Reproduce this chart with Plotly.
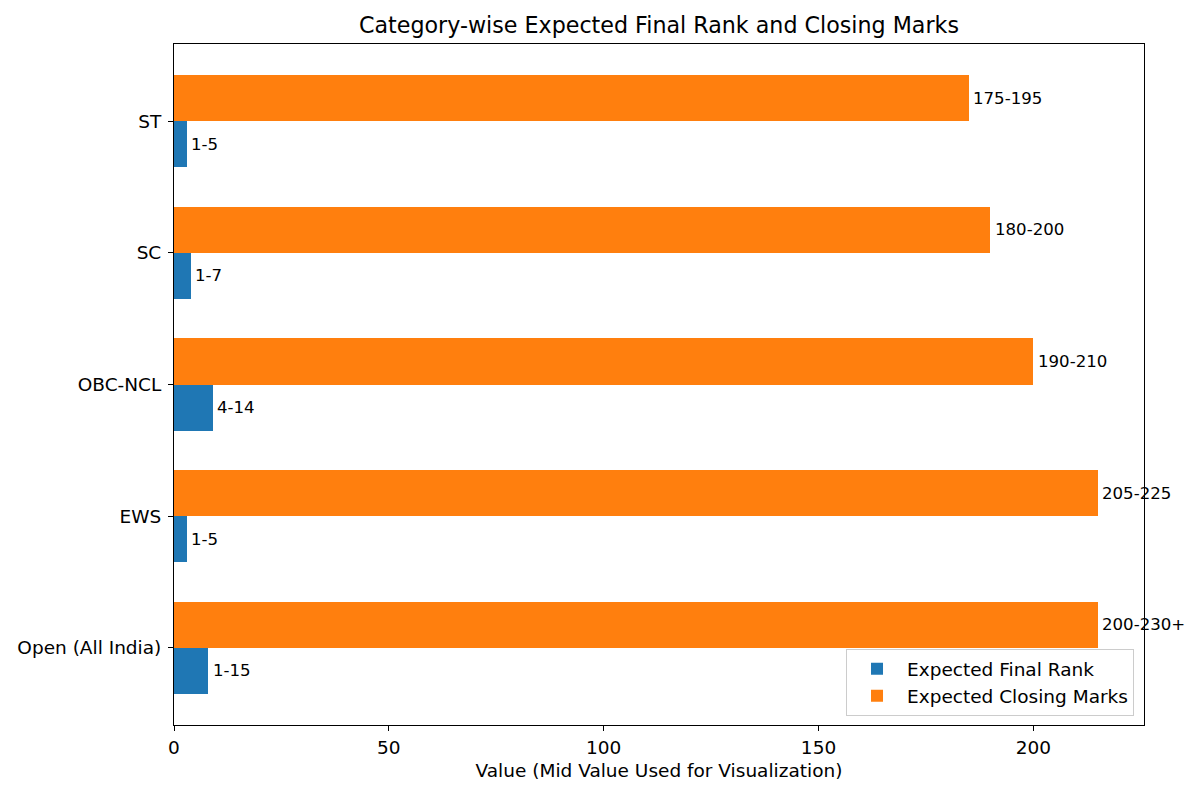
import plotly.graph_objects as go

categories = ["Open (All India)", "EWS", "OBC-NCL", "SC", "ST"]
rank_mid = [8, 3, 9, 4, 3]
rank_labels = ["1-15", "1-5", "4-14", "1-7", "1-5"]
marks_mid = [215, 215, 200, 190, 185]
marks_labels = ["200-230+", "205-225", "190-210", "180-200", "175-195"]

h = 0.35
pos = list(range(len(categories)))
blue_y = [p - h / 2 for p in pos]
orange_y = [p + h / 2 for p in pos]

fig = go.Figure()
fig.add_trace(go.Bar(y=blue_y, x=rank_mid, orientation="h", width=h,
                     marker=dict(color="#1f77b4", line=dict(width=0)),
                     name="Expected Final Rank"))
fig.add_trace(go.Bar(y=orange_y, x=marks_mid, orientation="h", width=h,
                     marker=dict(color="#ff7f0e", line=dict(width=0)),
                     name="Expected Closing Marks"))

ann_font = dict(size=16.6, color="black")
annotations = []
for yv, xv, t in zip(blue_y, rank_mid, rank_labels):
    annotations.append(dict(x=xv + 0.5, y=yv, text=t, showarrow=False, xanchor="left",
                            yanchor="middle", font=ann_font))
for yv, xv, t in zip(orange_y, marks_mid, marks_labels):
    annotations.append(dict(x=xv + 0.5, y=yv, text=t, showarrow=False, xanchor="left",
                            yanchor="middle", font=ann_font))

xmax = max(marks_mid) * 1.05
fig.update_layout(
    width=1200, height=796,
    paper_bgcolor="white", plot_bgcolor="white",
    font=dict(family="DejaVu Sans", size=18.5, color="black"),
    margin=dict(l=166, r=64, t=36, b=79, autoexpand=False),
    barmode="overlay",
    bargap=0,
    title=dict(text="Category-wise Expected Final Rank and Closing Marks",
               x=(166 + 1136) / 2 / 1200, xanchor="center", y=1 - 17 / 796, yanchor="middle",
               font=dict(size=22.2, color="black")),
    xaxis=dict(range=[0, xmax], tickvals=[0, 50, 100, 150, 200], showgrid=False,
               zeroline=False, showline=True, linecolor="black", linewidth=1, mirror=True,
               ticks="outside", ticklen=5, tickcolor="black", tickwidth=1,
               tickfont=dict(size=18.5), ticklabelstandoff=1, automargin=False,
               title=dict(text="Value (Mid Value Used for Visualization)", standoff=6,
                          font=dict(size=18.5))),
    yaxis=dict(range=[-0.585, 4.585], tickvals=pos, ticktext=categories, showgrid=False,
               zeroline=False, showline=True, linecolor="black", linewidth=1, mirror=True,
               ticks="outside", ticklen=5, tickcolor="black", tickwidth=1,
               tickfont=dict(size=18.5), ticklabelstandoff=3, automargin=False),
    legend=dict(x=0.9897, y=0.013, xanchor="right", yanchor="bottom",
                bgcolor="rgba(255,255,255,0.8)", bordercolor="#cccccc", borderwidth=1,
                font=dict(size=18.5), traceorder="normal", itemwidth=50),
    annotations=annotations,
)

fig.write_html("out.html")
